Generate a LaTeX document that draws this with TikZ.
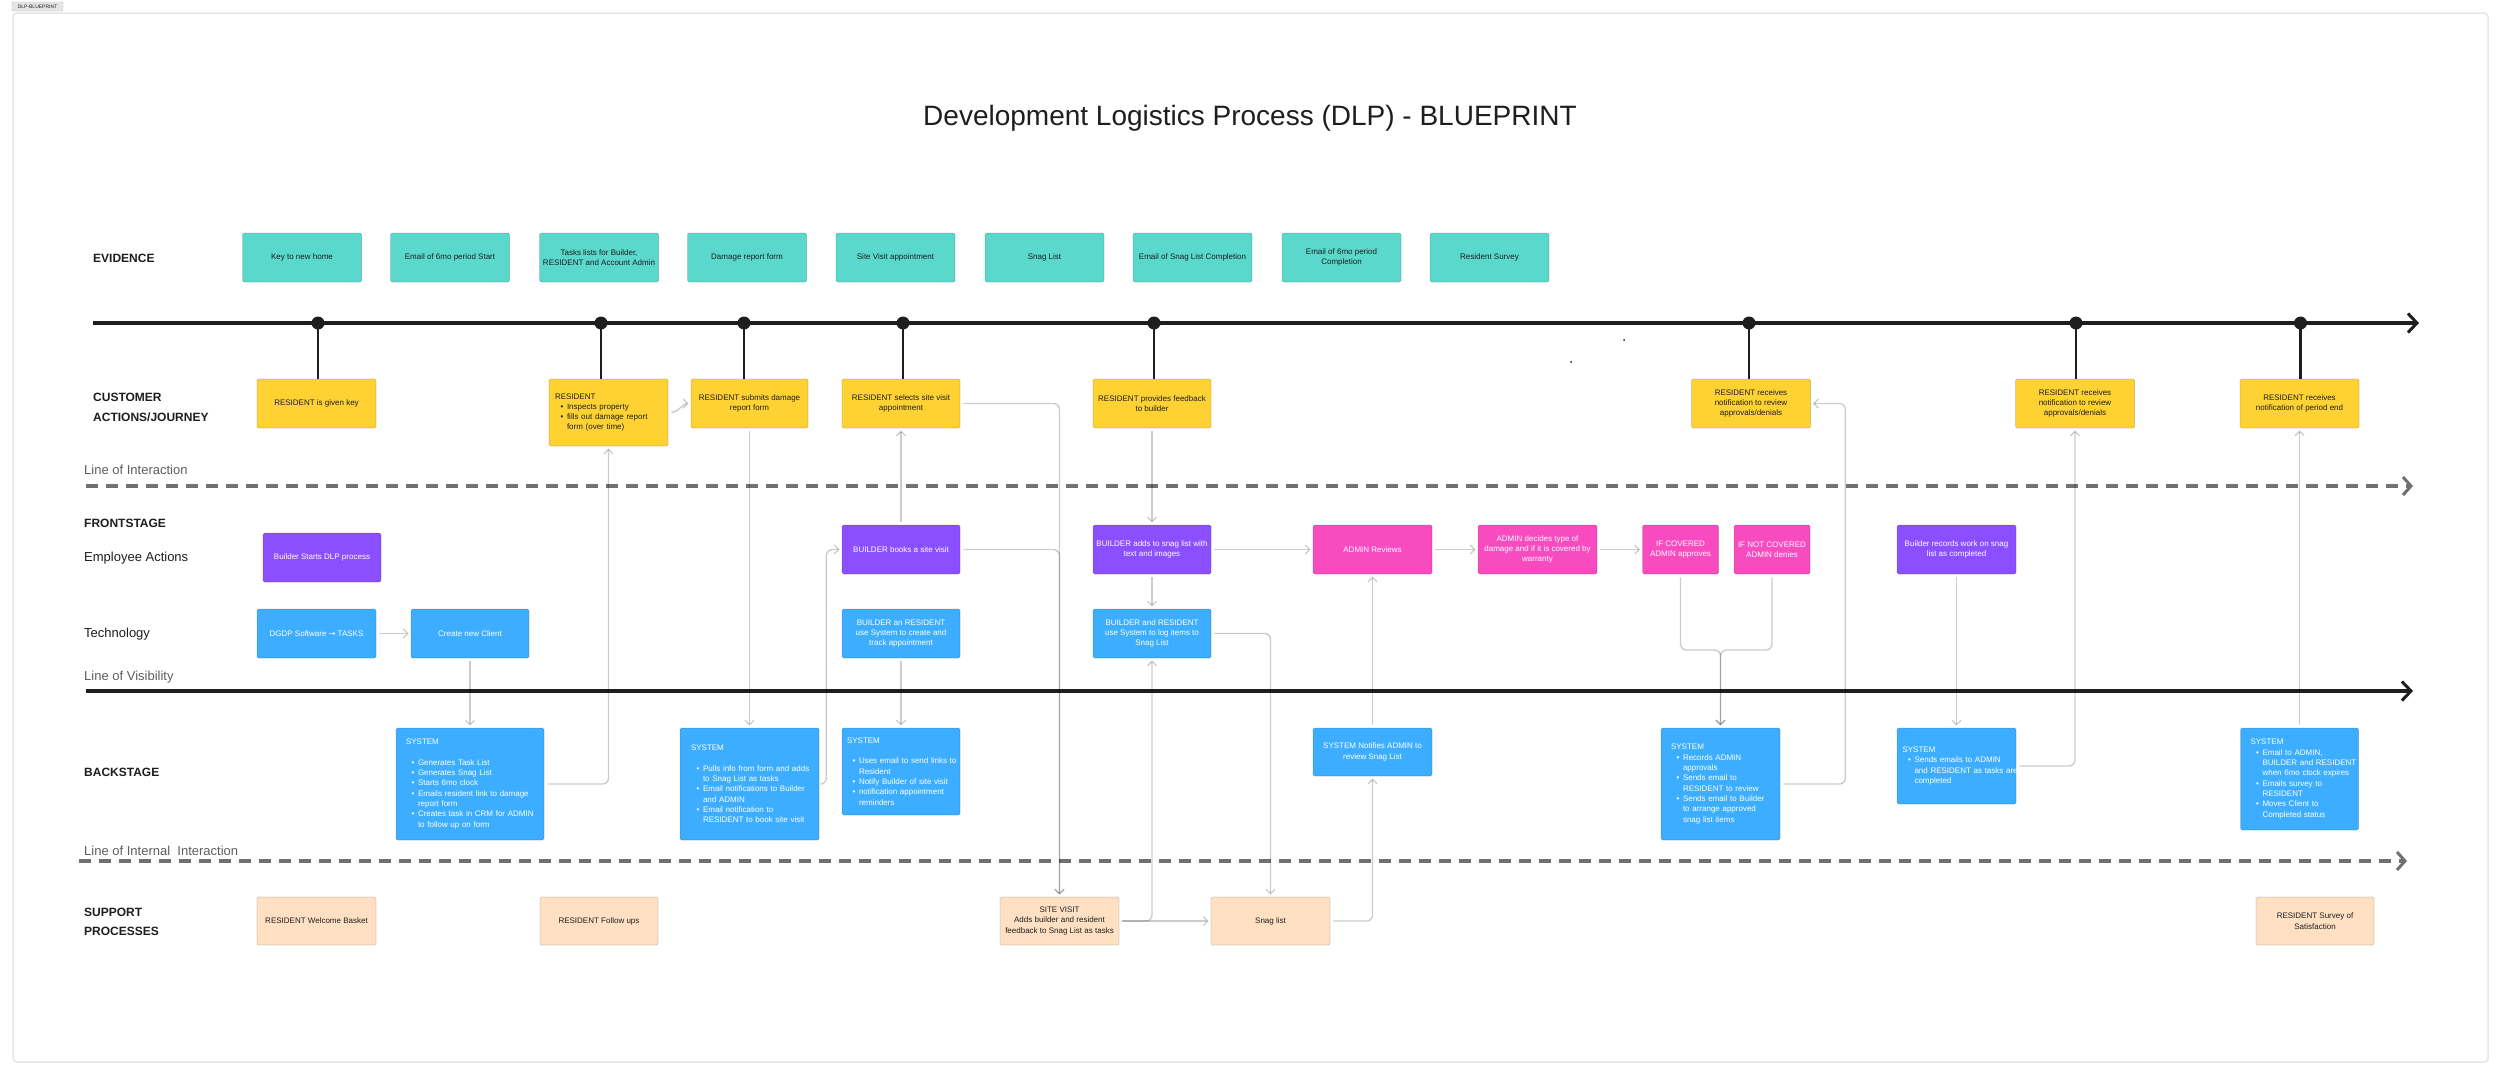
\documentclass[tikz,border=0pt]{standalone}
\usepackage{fontspec}
\setmainfont{Liberation Sans}
\newfontfamily\dejavu{DejaVu Sans}
\usetikzlibrary{arrows.meta}
\definecolor{evc}{HTML}{5AD8CC}
\definecolor{yc}{HTML}{FFD234}
\definecolor{puc}{HTML}{8C4FFF}
\definecolor{pkc}{HTML}{F94BC0}
\definecolor{blc}{HTML}{3DAEFF}
\definecolor{suc}{HTML}{FFE0C2}
\definecolor{ink}{HTML}{1E1E1E}
\definecolor{linec}{HTML}{5E5E5E}
\definecolor{dashc}{HTML}{707070}
\definecolor{framec}{HTML}{E6E6E6}
\newcommand\bul[1]{\par{\leftskip=12pt\relax\rightskip=-30pt plus 2em\relax\noindent\llap{\textbullet\hspace{3.5pt}}#1\par}}
\tikzset{
  box/.style={draw=black, draw opacity=0.15, line width=0.8pt, rounded corners=1.5pt,
    inner sep=0pt, font=\fontsize{8}{10.3}\selectfont, align=center, text=ink},
  sz/.style 2 args={minimum width=#1, minimum height=#2},
  ev/.style={box, fill=evc},
  ya/.style={box, fill=yc},
  pu/.style={box, fill=puc, text=white},
  pk/.style={box, fill=pkc, text=white},
  bl/.style={box, fill=blc, text=white},
  su/.style={box, fill=suc},
  lft/.style={align=left, text width=#1, execute at begin node={\hyphenpenalty=10000\relax}},
  lab/.style={anchor=west, inner sep=0pt, text=ink, font=\fontsize{13}{15}\selectfont},
  blab/.style={anchor=west, inner sep=0pt, text=ink, align=left, font=\fontsize{12}{20}\selectfont\bfseries},
  glab/.style={anchor=west, inner sep=0pt, text=linec, font=\fontsize{13}{15}\selectfont},
  tdot/.style={circle, fill=ink, inner sep=0pt, minimum size=13pt},
  stem/.style={draw=ink, line width=2.6pt},
  timeline/.style={draw=ink, line width=3.5pt, -{Straight Barb[length=9pt,width=19pt,line width=3pt]}},
  sepdash/.style={draw=dashc, line width=3.5pt, dash pattern=on 12pt off 8pt,
    -{Straight Barb[length=8pt,width=18pt,line width=3pt]}},
  conn/.style={draw=black, draw opacity=0.2, line width=1.4pt, rounded corners=6pt,
    shorten >=2pt, shorten <=3pt, -{Straight Barb[length=4.5pt,width=9pt,line width=1.3pt]}},
}
\begin{document}
\begin{tikzpicture}[x=1pt,y=-1pt]
\useasboundingbox (0,0) rectangle (2500,1076);
\fill[white] (0,0) rectangle (2500,1076);
% frame and tag
\draw[framec, line width=1.5pt, rounded corners=4pt] (13,13) rectangle (2488,1062);
\node[draw=black!25, fill=black!10, rounded corners=1pt, inner sep=0pt, minimum width=51pt, minimum height=9pt,
  font=\fontsize{5}{6}\selectfont, text=ink] (tag) at (37.5,6.5) {DLP-BLUEPRINT};
% title
\node[font=\fontsize{28}{32}\selectfont, text=ink, inner sep=0pt] (title) at (1250,118) {Development Logistics Process (DLP) - BLUEPRINT};

% row labels
\node[blab] (lEv) at (93,258) {EVIDENCE};
\node[blab] (lCu) at (93,407) {CUSTOMER\\ACTIONS/JOURNEY};
\node[glab] (lLi) at (84,470) {Line of Interaction};
\node[blab] (lFr) at (84,523) {FRONTSTAGE};
\node[lab] (lEm) at (84,558) {Employee Actions};
\node[lab] (lTe) at (84,634) {Technology};
\node[glab] (lLv) at (84,677) {Line of Visibility};
\node[blab] (lBa) at (84,772) {BACKSTAGE};
\node[glab] (lLn) at (84,851) {Line of Internal\ \ Interaction};
\node[blab, font=\fontsize{12}{19}\selectfont\bfseries] (lSu) at (84,921.5) {SUPPORT\\PROCESSES};

% separator lines
\coordinate (t0) at (93,323);   \coordinate (t1) at (2419,323);
\coordinate (i0) at (86,486);   \coordinate (i1) at (2413,486);
\coordinate (v0) at (86,691);   \coordinate (v1) at (2413,691);
\coordinate (n0) at (79,861);   \coordinate (n1) at (2407,861);
\draw[timeline] (t0) -- (t1);
\draw[sepdash] (i0) -- (i1);
\draw[timeline, line width=3.3pt] (v0) -- (v1);
\draw[sepdash] (n0) -- (n1);

% stray dots
\fill[ink] (1624,340) circle (1pt);
\fill[ink] (1571,362) circle (1pt);

% evidence
\node[ev, sz={119pt}{49pt}] (E1) at (302,257.5) {Key to new home};
\node[ev, sz={119pt}{49pt}] (E2) at (450,257.5) {Email of 6mo period Start};
\node[ev, sz={119pt}{49pt}] (E3) at (599,257.5) {Tasks lists for Builder,\\RESIDENT and Account Admin};
\node[ev, sz={119pt}{49pt}] (E4) at (747,257.5) {Damage report form};
\node[ev, sz={119pt}{49pt}] (E5) at (895.5,257.5) {Site Visit appointment};
\node[ev, sz={119pt}{49pt}] (E6) at (1044.5,257.5) {Snag List};
\node[ev, sz={119pt}{49pt}] (E7) at (1192.5,257.5) {Email of Snag List Completion};
\node[ev, sz={119pt}{49pt}] (E8) at (1341.5,257.5) {Email of 6mo period\\Completion};
\node[ev, sz={119pt}{49pt}] (E9) at (1489.5,257.5) {Resident Survey};

% customer actions
\node[ya, sz={119pt}{49pt}] (Y1) at (316.5,403.5) {RESIDENT is given key};
\node[ya, sz={119pt}{67pt}, lft=107pt] (Y2) at (608.5,412.5) {RESIDENT\bul{Inspects property}\bul{fills out damage report\\form (over time)}};
\node[ya, sz={117pt}{49pt}] (Y3) at (749.5,403.5) {RESIDENT submits damage\\report form};
\node[ya, sz={118pt}{49pt}] (Y4) at (901,403.5) {RESIDENT selects site visit\\appointment};
\node[ya, sz={118pt}{49pt}] (Y5) at (1152,403.5) {RESIDENT provides feedback\\to builder};
\node[ya, sz={119pt}{49pt}] (Y6) at (1751,403.5) {RESIDENT receives\\notification to review\\approvals/denials};
\node[ya, sz={119pt}{49pt}] (Y7) at (2075,403.5) {RESIDENT receives\\notification to review\\approvals/denials};
\node[ya, sz={119pt}{49pt}] (Y8) at (2299.5,403.5) {RESIDENT receives\\notification of period end};

% timeline dots and stems
\node[tdot] (d1) at (318,323) {};
\node[tdot] (d2) at (601,323) {};
\node[tdot] (d3) at (744,323) {};
\node[tdot] (d4) at (903,323) {};
\node[tdot] (d5) at (1154,323) {};
\node[tdot] (d6) at (1749,323) {};
\node[tdot] (d7) at (2076,323) {};
\node[tdot] (d8) at (2300.5,323) {};
\draw[stem] (d1.center) -- (d1.center |- Y1.north);
\draw[stem] (d2.center) -- (d2.center |- Y2.north);
\draw[stem] (d3.center) -- (d3.center |- Y3.north);
\draw[stem] (d4.center) -- (d4.center |- Y4.north);
\draw[stem] (d5.center) -- (d5.center |- Y5.north);
\draw[stem] (d6.center) -- (d6.center |- Y6.north);
\draw[stem] (d7.center) -- (d7.center |- Y7.north);
\draw[stem] (d8.center) -- (d8.center |- Y8.north);

% frontstage employee actions
\node[pu, sz={118pt}{49pt}] (P1) at (322,557.5) {Builder Starts DLP process};
\node[pu, sz={118pt}{49pt}] (P2) at (901,549.5) {BUILDER books a site visit};
\node[pu, sz={118pt}{49pt}] (P3) at (1152,549.5) {BUILDER adds to snag list with\\text and images};
\node[pk, sz={119pt}{49pt}] (K1) at (1372.5,549.5) {ADMIN Reviews};
\node[pk, sz={119pt}{49pt}] (K2) at (1537.5,549.5) {ADMIN decides type of\\damage and if it is covered by\\warranty};
\node[pk, sz={76pt}{49pt}] (K3) at (1680.5,549.5) {IF COVERED\\ADMIN approves};
\node[pk, sz={76pt}{49pt}] (K4) at (1772,549.5) {IF NOT COVERED\\ADMIN denies};
\node[pu, sz={119pt}{49pt}] (P4) at (1956.5,549.5) {Builder records work on snag\\list as completed};

% technology
\node[bl, sz={119pt}{49pt}] (B1) at (316.5,633.5) {DGDP Software {\dejavu →} TASKS};
\node[bl, sz={118pt}{49pt}] (B2) at (470,633.5) {Create new Client};
\node[bl, sz={118pt}{49pt}] (B3) at (901,633.5) {BUILDER an RESIDENT\\use System to create and\\track appointment};
\node[bl, sz={118pt}{49pt}] (B4) at (1152,633.5) {BUILDER and RESIDENT\\use System to log items to\\Snag List};

% backstage
\node[bl, sz={148pt}{112pt}, lft=128pt] (S1) at (470,784) {SYSTEM\par\vspace{10.3pt}%
  \bul{Generates Task List}\bul{Generates Snag List}\bul{Starts 6mo clock}%
  \bul{Emails resident link to damage\\report form}\bul{Creates task in CRM for ADMIN\\to follow up on form}};
\node[bl, sz={139pt}{112pt}, lft=117pt] (S2) at (749.5,784) {SYSTEM\par\vspace{10.3pt}%
  \bul{Pulls info from form and adds\\to Snag List as tasks}\bul{Email notifications to Builder\\and ADMIN}%
  \bul{Email notification to\\RESIDENT to book site visit}};
\node[bl, sz={118pt}{87pt}, lft=108pt] (S3) at (901,771.5) {SYSTEM\par\vspace{10.3pt}%
  \bul{Uses email to send links to\\Resident}\bul{Notify Builder of site visit}%
  \bul{notification appointment\\reminders}};
\node[bl, sz={119pt}{48pt}] (S4) at (1372.5,752) {SYSTEM Notifies ADMIN to\\review Snag List};
\node[bl, sz={119pt}{112pt}, lft=99pt] (S5) at (1720.5,784) {SYSTEM%
  \bul{Records ADMIN\\approvals}\bul{Sends email to\\RESIDENT to review}%
  \bul{Sends email to Builder\\to arrange approved\\snag list items}};
\node[bl, sz={119pt}{76pt}, lft=108pt] (S6) at (1956.5,766) {SYSTEM%
  \bul{Sends emails to ADMIN\\and RESIDENT as tasks are\\completed}};
\node[bl, sz={118pt}{102pt}, lft=98pt] (S7) at (2299.5,779) {SYSTEM%
  \bul{Email to ADMIN,\\BUILDER and RESIDENT\\when 6mo clock expires}%
  \bul{Emails survey to\\RESIDENT}\bul{Moves Client to\\Completed status}};

% support processes
\node[su, sz={119pt}{48pt}] (R1) at (316.5,921) {RESIDENT Welcome Basket};
\node[su, sz={118pt}{48pt}] (R2) at (599,921) {RESIDENT Follow ups};
\node[su, sz={119pt}{48pt}] (R3) at (1059.5,921) {SITE VISIT\\Adds builder and resident\\feedback to Snag List as tasks};
\node[su, sz={119pt}{48pt}] (R4) at (1270.5,921) {Snag list};
\node[su, sz={118pt}{48pt}] (R5) at (2315,921) {RESIDENT Survey of\\Satisfaction};

% connectors
\draw[conn] (B1) -- (B2);
\draw[conn] (B2) -- (S1);
\draw[conn] (S1.east) -| (Y2.south);
\draw[conn, rounded corners=3pt] (Y2.east) .. controls +(10,0) and +(-8,0) .. (Y3.west);
\draw[conn] (Y3) -- (S2);
\draw[conn] (S2.east) -- ++(7,0) |- (P2.west);
\draw[conn] (P2) -- (Y4);
\draw[conn] (Y4.east) -| (R3.north);
\draw[conn] (P2.east) -| (R3.north);
\draw[conn] (B3) -- (S3);
\draw[conn] (Y5) -- (P3);
\draw[conn] (P3) -- (B4);
\draw[conn] (P3) -- (K1);
\draw[conn] (K1) -- (K2);
\draw[conn] (K2) -- (K3);
\draw[conn] (B4.east) -| (R4.north);
\draw[conn] (R3) -- (R4);
\draw[conn] (R3.east) -| (B4.south);
\draw[conn] (R4.east) -| (S4.south);
\draw[conn] (S4) -- (K1);
\coordinate (jn) at (1720.5,650);
\draw[conn] (K3.south) |- (jn) -- (S5.north);
\draw[conn] (K4.south) |- (jn) -- (S5.north);
\draw[conn] (S5.east) -- ++(65,0) |- (Y6.east);
\draw[conn] (P4) -- (S6);
\draw[conn] (S6.east) -| (Y7.south);
\draw[conn] (S7) -- (Y8);
\end{tikzpicture}
\end{document}
